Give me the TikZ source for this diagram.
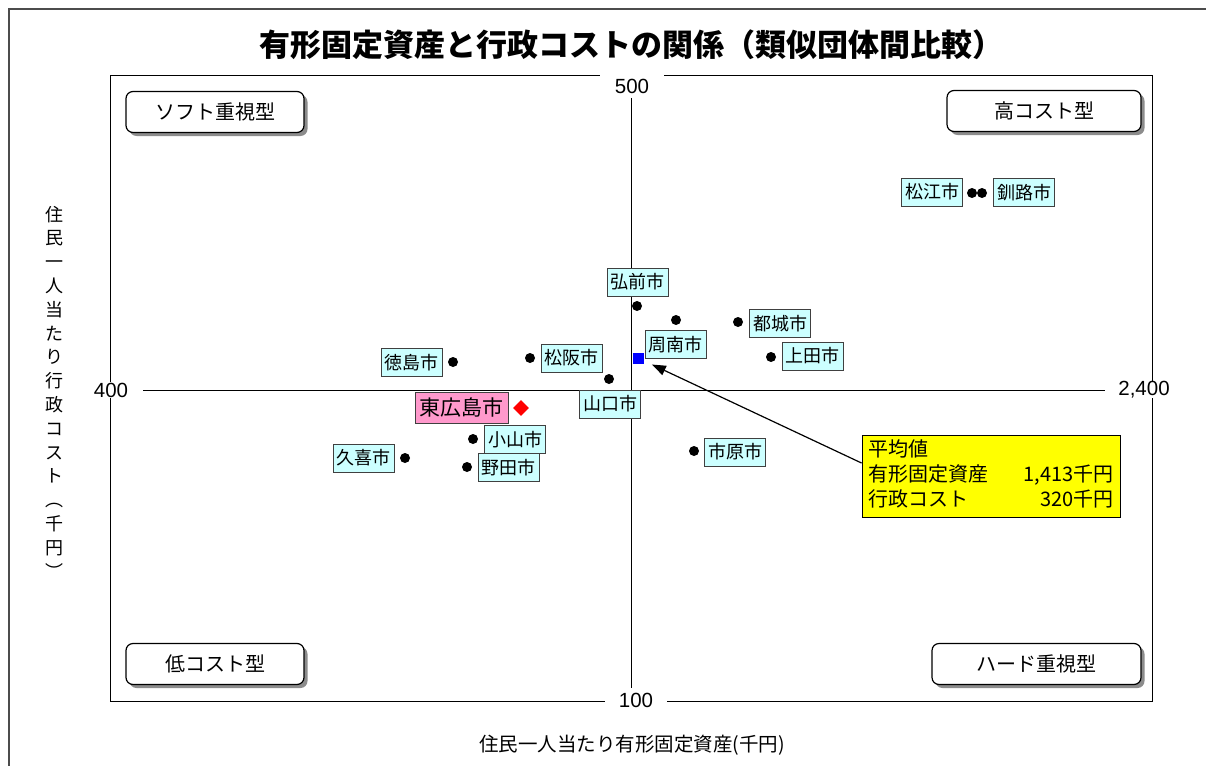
\documentclass[tikz,border=0pt]{standalone}
\usepackage{fontspec}
\setmainfont{Noto Sans CJK JP}
\newfontfamily\numfont{Liberation Sans}
\usetikzlibrary{shadows,arrows.meta,shapes.geometric}
\definecolor{labelcyan}{HTML}{CCFFFF}
\definecolor{hhpink}{HTML}{FF99CC}
\definecolor{avgyellow}{HTML}{FFFF00}
\tikzset{
  lbl/.style={draw=black!75, fill=labelcyan, minimum width=61pt, minimum height=28pt, inner sep=0pt, font=\fontsize{18}{18}\selectfont},
  dot/.style={circle, fill=black, minimum size=10pt, inner sep=0pt},
  quad/.style={draw=black, line width=1.2pt, rounded corners=7pt, fill=white, minimum height=41pt, inner sep=0pt, font=\fontsize{20}{20}\selectfont, drop shadow={shadow xshift=3.5pt, shadow yshift=-3.5pt, fill=black!45, opacity=1}},
  axval/.style={fill=white, inner sep=0pt, font=\numfont\fontsize{20.5}{20.5}\selectfont},
  frameline/.style={line width=0.9pt, black},
  arr/.style={-{Triangle[length=14pt,width=10pt]}, line width=1.2pt},
}
\begin{document}
\begin{tikzpicture}[x=1pt,y=-1pt]
\useasboundingbox (0,0) rectangle (1206,765);
\fill[white] (0,0) rectangle (1206,765);
\draw[black!70, line width=1.5pt] (9,775) -- (9,9) -- (1216,9);

\node[font=\bfseries\fontsize{31}{31}\selectfont] (title) at (631,45) {有形固定資産と行政コストの関係（類似団体間比較）};

% plot frame
\draw[frameline] (110,75) rectangle (1152,701);

% axis values
\node[axval, minimum width=64pt, minimum height=24pt] (ytop) at (632,86) {500};
\node[axval, minimum width=62pt, minimum height=24pt] (ybot) at (636,700) {100};
\node[axval, minimum height=16pt] (xlo) at (111,390) {400};
\node[axval, minimum height=16pt] (xhi) at (1144,390) {2,400};

% axes
\coordinate (vtop) at (631,98);
\draw[frameline] (vtop) -- (vtop |- ybot.north);
\draw[frameline] ([xshift=15pt]xlo.east) -- ([xshift=-13pt]xhi.west);

% quadrant boxes
\node[quad, minimum width=178pt] (q1) at (215,112) {ソフト重視型};
\node[quad, minimum width=194pt] (q2) at (1044,111) {高コスト型};
\node[quad, minimum width=178pt] (q3) at (215,664) {低コスト型};
\node[quad, minimum width=209pt] (q4) at (1036.5,664) {ハード重視型};

% axis titles
\node[font=\fontsize{18}{23.8}\selectfont, align=center, inner sep=0pt] (ylab) at (54,392) {住\\民\\一\\人\\当\\た\\り\\行\\政\\コ\\ス\\ト\\︵\\千\\円\\︶};
\node[font=\fontsize{19.5}{19.5}\selectfont] (xlab) at (632,745) {住民一人当たり有形固定資産(千円)};

% data points
\node[dot] (d1) at (972,193) {};
\node[dot] (d2) at (982,193) {};
\node[dot] (d3) at (637,306) {};
\node[dot] (d4) at (676,320) {};
\node[dot] (d5) at (738,322) {};
\node[dot] (d6) at (771,357) {};
\node[dot] (d7) at (453,362) {};
\node[dot] (d8) at (530,358) {};
\node[dot] (d9) at (609,379) {};
\node[dot] (d10) at (473,439) {};
\node[dot] (d11) at (405,458) {};
\node[dot] (d12) at (467,467) {};
\node[dot] (d13) at (694,451) {};

% labels
\node[lbl] (l1) at (932,192) {松江市};
\node[lbl] (l2) at (1024,192.5) {釧路市};
\node[lbl] (l3) at (637.5,282) {弘前市};
\node[lbl] (l5) at (780,323.5) {都城市};
\node[lbl] (l4) at (675.5,344.5) {周南市};
\node[lbl] (l6) at (812.5,356) {上田市};
\node[lbl] (l7) at (411.5,362.5) {徳島市};
\node[lbl] (l8) at (571.5,358) {松阪市};
\node[lbl] (l9) at (610,404) {山口市};
\node[lbl] (l10) at (515,439.5) {小山市};
\node[lbl] (l11) at (363.5,458) {久喜市};
\node[lbl] (l12) at (508.5,467.5) {野田市};
\node[lbl] (l13) at (735,452) {市原市};

\node[draw=black!75, fill=hhpink, minimum width=93pt, minimum height=31pt, inner sep=0pt, font=\fontsize{21}{21}\selectfont] (lhh) at (461.5,408) {東広島市};
\node[diamond, fill=red, minimum width=16pt, minimum height=16pt, inner sep=0pt] (hh) at (521,408) {};

\node[fill=blue, minimum size=11pt, inner sep=0pt] (mean) at (638,358) {};

% average box
\node[draw=black, line width=1pt, fill=avgyellow, minimum width=258pt, minimum height=82pt, inner sep=0pt, font=\fontsize{20}{25}\selectfont] (avg) at (991,476) {%
\begin{tabular*}{245pt}{@{}l@{\extracolsep{\fill}}r@{}}
平均値 & \\
有形固定資産 & 1,413千円\\
行政コスト & 320千円
\end{tabular*}};

\draw[arr, shorten >=9pt] ([yshift=13pt]avg.west) -- (mean);
\end{tikzpicture}
\end{document}
